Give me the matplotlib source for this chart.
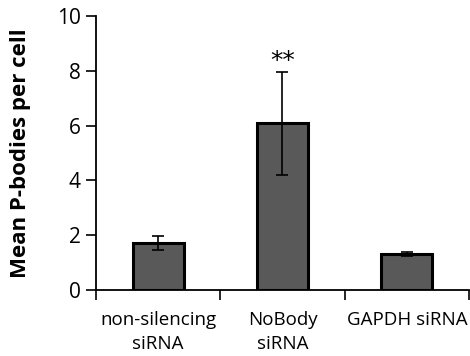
import matplotlib
matplotlib.use("Agg")
import matplotlib.pyplot as plt
from matplotlib.ticker import FixedLocator

categories = ["non-silencing\nsiRNA", "NoBody\nsiRNA", "GAPDH siRNA"]
means = [1.72, 6.08, 1.31]
errors = [0.24, 1.88, 0.07]
significance = ["", "**", ""]
y_ticks = [0, 2, 4, 6, 8, 10]

plt.rcParams["font.family"] = ["Open Sans", "DejaVu Sans"]

fig = plt.figure(figsize=(4.7, 3.56), dpi=100)
ax = fig.add_axes([0.204, 0.185, 0.794, 0.770])

x = list(range(len(categories)))
ax.bar(x, means, width=0.41, color="#595959", edgecolor="black", linewidth=2.2,
       yerr=errors, capsize=4,
       error_kw=dict(elinewidth=1.2, capthick=1.2, ecolor="black"), zorder=2)

for xi, m, e, s in zip(x, means, errors, significance):
    if s:
        ax.text(xi, m + e + 0.15, s, ha="center", va="baseline", fontsize=18,
                fontfamily="DejaVu Sans")

ax.set_xlim(-0.5, len(categories) - 0.5)
ax.set_ylim(0, 10)
ax.set_yticks(y_ticks)
ax.tick_params(axis="y", labelsize=15, length=7, width=1.2, direction="out", pad=4)

ax.set_xticks(x)
ax.set_xticklabels(categories, fontsize=13.5, linespacing=1.45)
ax.tick_params(axis="x", which="major", length=0, pad=15)
ax.xaxis.set_minor_locator(FixedLocator([i - 0.5 for i in range(len(categories) + 1)]))
ax.tick_params(axis="x", which="minor", length=7, width=1.2, direction="out")

for side in ("top", "right"):
    ax.spines[side].set_visible(False)
for side in ("left", "bottom"):
    ax.spines[side].set_linewidth(1.3)

ax.set_ylabel("Mean P-bodies per cell", fontsize=16, fontweight="bold")
ax.yaxis.set_label_coords(-0.175, 0.5)

fig.savefig("out.png", dpi=100)
